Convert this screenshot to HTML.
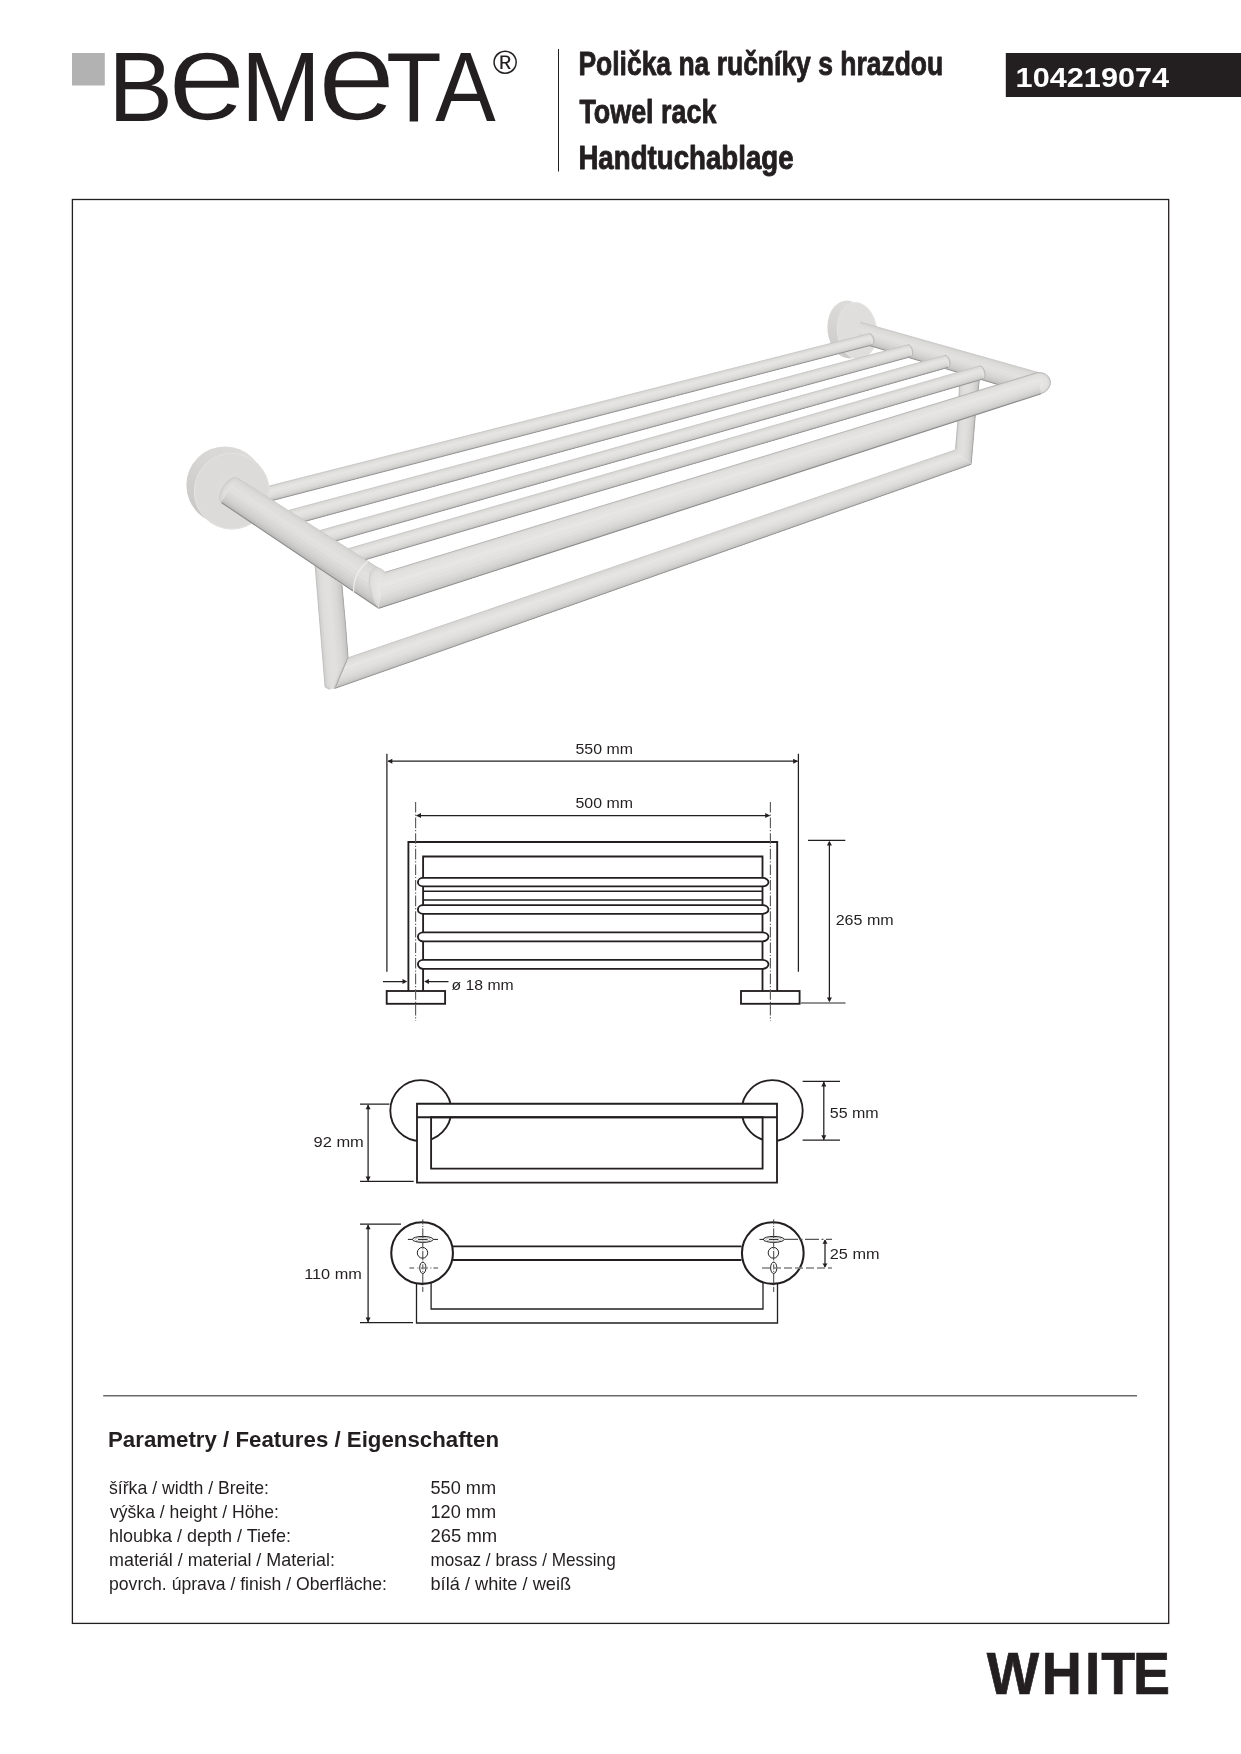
<!DOCTYPE html>
<html lang="cs">
<head>
<meta charset="utf-8">
<title>Bemeta 104219074 – Polička na ručníky s hrazdou</title>
<style>
html,body{margin:0;padding:0;background:#fff;}
body{width:1241px;height:1754px;overflow:hidden;position:relative;font-family:"Liberation Sans",sans-serif;color:#231f20;}
svg{position:absolute;left:0;top:0;display:block;will-change:transform;}
text{font-family:"Liberation Sans",sans-serif;fill:#231f20;}
.b{font-weight:bold;}
</style>
</head>
<body>
<svg id="page" width="1241" height="1754" viewBox="0 0 1241 1754">
<g id="header">
<rect x="72" y="53" width="32.8" height="32.5" fill="#b2b2b2"/>
<g id="logo" aria-label="BeMeTA" fill="#231f20">
<text transform="translate(108.25,120.70) scale(0.9695,0.9826)" font-size="100">B</text><text transform="translate(167.49,120.46) scale(1.4151,1.2704)" font-size="100" stroke="#fff" stroke-width="1.8" vector-effect="non-scaling-stroke">e</text><text transform="translate(240.94,120.70) scale(0.9582,0.9826)" font-size="100">M</text><text transform="translate(317.28,120.46) scale(1.4172,1.2704)" font-size="100" stroke="#fff" stroke-width="1.8" vector-effect="non-scaling-stroke">e</text><text transform="translate(386.37,120.70) scale(0.9055,0.9826)" font-size="100">T</text><text transform="translate(435.32,120.70) scale(0.9064,0.9826)" font-size="100">A</text><text x="492.7" y="74.4" font-size="33.6">®</text>
</g>
<line x1="558.5" y1="49" x2="558.5" y2="171.5" stroke="#231f20" stroke-width="1"/>
<text id="t1" x="578.40" y="75.30" font-size="33.6" textLength="364.80" lengthAdjust="spacingAndGlyphs" class="b" stroke="#231f20" stroke-width="0.9" stroke-linejoin="round">Polička na ručníky s hrazdou</text>
<text id="t2" x="579.40" y="122.50" font-size="33.6" textLength="137.00" lengthAdjust="spacingAndGlyphs" class="b" stroke="#231f20" stroke-width="0.9" stroke-linejoin="round">Towel rack</text>
<text id="t3" x="578.40" y="169.40" font-size="33.6" textLength="215.20" lengthAdjust="spacingAndGlyphs" class="b" stroke="#231f20" stroke-width="0.9" stroke-linejoin="round">Handtuchablage</text>
<rect x="1005.8" y="53" width="236" height="44" fill="#231f20"/>
<text id="code" x="1015.60" y="86.90" font-size="28" textLength="153.60" lengthAdjust="spacingAndGlyphs" class="b" style="fill:#fff">104219074</text>
</g>
<rect x="72.4" y="199.5" width="1096.3" height="1423.9" fill="none" stroke="#231f20" stroke-width="1.3"/>
<g id="product">
<defs><linearGradient id="rimL" gradientUnits="userSpaceOnUse" x1="245" y1="447" x2="195" y2="515"><stop offset="0" stop-color="#dddcda"/><stop offset="0.45" stop-color="#d6d5d3"/><stop offset="1" stop-color="#c9c8c8"/></linearGradient><linearGradient id="rimR" gradientUnits="userSpaceOnUse" x1="855" y1="300" x2="832" y2="350"><stop offset="0" stop-color="#dedddb"/><stop offset="1" stop-color="#cdcccb"/></linearGradient></defs>
<ellipse cx="848" cy="329.5" rx="20.5" ry="29" fill="url(#rimR)" transform="rotate(-6 848 329.5)"/>
<ellipse cx="857" cy="330.8" rx="20" ry="28.6" fill="#dfdedc" transform="rotate(-6 857 330.8)"/>
<ellipse cx="857" cy="330.8" rx="19.6" ry="28.2" fill="none" stroke="#e6e5e3" stroke-width="0.8" transform="rotate(-6 857 330.8)"/>
<path d="M860.3 322.2 L1040.0 373.0 L1030.0 394.3 L858.0 342.1Z" fill="#d4d4d2"/>
<path d="M860.2 323.4 L1039.4 374.3 L1030.0 394.3 L858.0 342.1Z" fill="#dad8d6"/>
<path d="M860.0 324.6 L1038.8 375.6 L1030.0 394.3 L858.0 342.1Z" fill="#dddcda"/>
<path d="M859.8 326.2 L1038.0 377.3 L1030.0 394.3 L858.0 342.1Z" fill="#dfdedc"/>
<path d="M859.6 328.2 L1037.0 379.4 L1030.0 394.3 L858.0 342.1Z" fill="#e2e1df"/>
<path d="M859.3 330.6 L1035.8 381.9 L1030.0 394.3 L858.0 342.1Z" fill="#e0dfdd"/>
<path d="M859.0 333.1 L1034.5 384.7 L1030.0 394.3 L858.0 342.1Z" fill="#dbdad8"/>
<path d="M858.8 335.3 L1033.4 387.1 L1030.0 394.3 L858.0 342.1Z" fill="#d6d5d3"/>
<path d="M858.6 337.1 L1032.5 389.0 L1030.0 394.3 L858.0 342.1Z" fill="#d1d0cf"/>
<path d="M858.4 338.5 L1031.8 390.5 L1030.0 394.3 L858.0 342.1Z" fill="#cdcccb"/>
<path d="M858.3 339.7 L1031.2 391.7 L1030.0 394.3 L858.0 342.1Z" fill="#c5c4c3"/>
<path d="M858.1 340.9 L1030.6 393.0 L1030.0 394.3 L858.0 342.1Z" fill="#bdbdbc"/>
<path d="M860.3 322.2 L1040.0 373.0" fill="none" stroke="#c6c6c5" stroke-width="0.9"/>
<path d="M858.0 342.1 L1030.0 394.3" fill="none" stroke="#959595" stroke-width="1.0"/>
<path d="M960.0 372.0 L958.2 417.4 L955.5 449.6 L971.2 463.5 L975.3 414.7 L979.5 378.0Z" fill="#d2d1d0"/>
<path d="M961.2 372.4 L959.2 417.2 L956.4 450.4 L971.2 463.5 L975.3 414.7 L979.5 378.0Z" fill="#d7d6d5"/>
<path d="M962.3 372.7 L960.3 417.1 L957.4 451.3 L971.2 463.5 L975.3 414.7 L979.5 378.0Z" fill="#dddcda"/>
<path d="M963.9 373.2 L961.6 416.9 L958.6 452.4 L971.2 463.5 L975.3 414.7 L979.5 378.0Z" fill="#dfdedc"/>
<path d="M965.9 373.8 L963.3 416.6 L960.2 453.8 L971.2 463.5 L975.3 414.7 L979.5 378.0Z" fill="#e0e0de"/>
<path d="M968.2 374.5 L965.4 416.3 L962.1 455.4 L971.2 463.5 L975.3 414.7 L979.5 378.0Z" fill="#e1e0de"/>
<path d="M970.7 375.3 L967.6 415.9 L964.1 457.2 L971.2 463.5 L975.3 414.7 L979.5 378.0Z" fill="#dddcda"/>
<path d="M972.9 376.0 L969.5 415.6 L965.9 458.8 L971.2 463.5 L975.3 414.7 L979.5 378.0Z" fill="#dad9d7"/>
<path d="M974.6 376.5 L971.0 415.4 L967.3 460.0 L971.2 463.5 L975.3 414.7 L979.5 378.0Z" fill="#d6d5d3"/>
<path d="M976.0 376.9 L972.2 415.2 L968.4 461.0 L971.2 463.5 L975.3 414.7 L979.5 378.0Z" fill="#d1d0ce"/>
<path d="M977.2 377.3 L973.2 415.0 L969.3 461.8 L971.2 463.5 L975.3 414.7 L979.5 378.0Z" fill="#cccbca"/>
<path d="M978.3 377.6 L974.3 414.9 L970.3 462.7 L971.2 463.5 L975.3 414.7 L979.5 378.0Z" fill="#c7c6c5"/>
<path d="M960.0 372.0 L958.2 417.4 L955.5 449.6" fill="none" stroke="#b4b4b4" stroke-width="0.9"/>
<path d="M979.5 378.0 L975.3 414.7 L971.2 463.5" fill="none" stroke="#a6a6a6" stroke-width="1.0"/>
<path d="M348.0 657.8 L955.5 449.9 L971.2 464.3 L334.2 688.6Z" fill="#d6d5d3"/>
<path d="M347.2 659.6 L956.4 450.8 L971.2 464.3 L334.2 688.6Z" fill="#dbdad8"/>
<path d="M346.3 661.5 L957.4 451.6 L971.2 464.3 L334.2 688.6Z" fill="#dfdedc"/>
<path d="M345.2 664.0 L958.6 452.8 L971.2 464.3 L334.2 688.6Z" fill="#e3e2e0"/>
<path d="M343.9 667.0 L960.2 454.2 L971.2 464.3 L334.2 688.6Z" fill="#e6e5e3"/>
<path d="M342.2 670.7 L962.1 455.9 L971.2 464.3 L334.2 688.6Z" fill="#e3e2e0"/>
<path d="M340.4 674.7 L964.1 457.8 L971.2 464.3 L334.2 688.6Z" fill="#e0dfdd"/>
<path d="M338.9 678.1 L965.9 459.4 L971.2 464.3 L334.2 688.6Z" fill="#dbdad8"/>
<path d="M337.6 680.9 L967.3 460.7 L971.2 464.3 L334.2 688.6Z" fill="#d7d6d4"/>
<path d="M336.7 683.1 L968.4 461.7 L971.2 464.3 L334.2 688.6Z" fill="#d2d1cf"/>
<path d="M335.9 684.9 L969.3 462.6 L971.2 464.3 L334.2 688.6Z" fill="#cacac8"/>
<path d="M335.0 686.8 L970.3 463.4 L971.2 464.3 L334.2 688.6Z" fill="#c4c3c2"/>
<path d="M348.0 657.8 L955.5 449.9" fill="none" stroke="#c6c6c5" stroke-width="0.9"/>
<path d="M334.2 688.6 L971.2 464.3" fill="none" stroke="#959595" stroke-width="1.0"/>
<path d="M315.2 566.0 L320.0 625.0 L325.1 687.0 L329.5 689.3 L335.0 688.3 L348.0 657.4 L345.5 625.0 L341.9 585.0Z" fill="#d2d1d0"/>
<path d="M316.8 567.1 L321.5 625.0 L326.5 685.2 L329.8 689.2 L335.0 688.3 L348.0 657.4 L345.5 625.0 L341.9 585.0Z" fill="#d7d6d5"/>
<path d="M318.4 568.3 L323.1 625.0 L327.8 683.4 L330.2 689.2 L335.0 688.3 L348.0 657.4 L345.5 625.0 L341.9 585.0Z" fill="#dddcda"/>
<path d="M320.5 569.8 L325.1 625.0 L329.7 681.1 L330.6 689.1 L335.0 688.3 L348.0 657.4 L345.5 625.0 L341.9 585.0Z" fill="#dfdedc"/>
<path d="M323.2 571.7 L327.6 625.0 L332.0 678.1 L331.1 689.0 L335.0 688.3 L348.0 657.4 L345.5 625.0 L341.9 585.0Z" fill="#e0e0de"/>
<path d="M326.4 574.0 L330.7 625.0 L334.7 674.6 L331.8 688.9 L335.0 688.3 L348.0 657.4 L345.5 625.0 L341.9 585.0Z" fill="#e1e0de"/>
<path d="M329.9 576.5 L334.0 625.0 L337.7 670.7 L332.5 688.8 L335.0 688.3 L348.0 657.4 L345.5 625.0 L341.9 585.0Z" fill="#dddcda"/>
<path d="M332.8 578.5 L336.8 625.0 L340.2 667.5 L333.1 688.6 L335.0 688.3 L348.0 657.4 L345.5 625.0 L341.9 585.0Z" fill="#dad9d7"/>
<path d="M335.2 580.2 L339.1 625.0 L342.3 664.8 L333.6 688.5 L335.0 688.3 L348.0 657.4 L345.5 625.0 L341.9 585.0Z" fill="#d6d5d3"/>
<path d="M337.1 581.6 L340.9 625.0 L343.9 662.7 L334.0 688.5 L335.0 688.3 L348.0 657.4 L345.5 625.0 L341.9 585.0Z" fill="#d1d0ce"/>
<path d="M338.7 582.7 L342.4 625.0 L345.3 661.0 L334.3 688.4 L335.0 688.3 L348.0 657.4 L345.5 625.0 L341.9 585.0Z" fill="#cccbca"/>
<path d="M340.3 583.9 L344.0 625.0 L346.6 659.2 L334.7 688.4 L335.0 688.3 L348.0 657.4 L345.5 625.0 L341.9 585.0Z" fill="#c7c6c5"/>
<path d="M315.2 566.0 L320.0 625.0 L325.1 687.0 L329.5 689.3" fill="none" stroke="#bcbcbc" stroke-width="0.9"/>
<path d="M341.9 585.0 L345.5 625.0 L348.0 657.4 L335.0 688.3" fill="none" stroke="#a8a8a8" stroke-width="1.0"/>
<path d="M259.0 488.6 L869.5 333.6 A3.2 5.8 -14.2 0 1 871.5 345.1 L871.5 345.1 L270.0 501.1Z" fill="#d6d5d3"/>
<path d="M259.7 489.4 L869.6 334.3 A2.8 5.1 -14.2 0 1 871.4 344.4 L871.5 345.1 L270.0 501.1Z" fill="#dbdad8"/>
<path d="M260.3 490.1 L869.7 335.0 A2.4 4.4 -14.2 0 1 871.3 343.7 L871.5 345.1 L270.0 501.1Z" fill="#dfdedc"/>
<path d="M261.2 491.1 L869.9 335.9 A1.9 3.5 -14.2 0 1 871.1 342.8 L871.5 345.1 L270.0 501.1Z" fill="#e3e2e0"/>
<path d="M262.3 492.4 L870.1 337.1 A1.3 2.3 -14.2 0 1 870.9 341.7 L871.5 345.1 L270.0 501.1Z" fill="#e6e5e3"/>
<path d="M263.6 493.9 L870.3 338.4 A0.5 0.9 -14.2 0 1 870.7 340.3 L871.5 345.1 L270.0 501.1Z" fill="#e3e2e0"/>
<path d="M265.1 495.5 L870.6 339.9 L871.5 345.1 L270.0 501.1Z" fill="#e0dfdd"/>
<path d="M266.3 496.9 L870.8 341.2 L871.5 345.1 L270.0 501.1Z" fill="#dbdad8"/>
<path d="M267.2 498.0 L871.0 342.2 L871.5 345.1 L270.0 501.1Z" fill="#d7d6d4"/>
<path d="M268.0 498.9 L871.1 343.0 L871.5 345.1 L270.0 501.1Z" fill="#d2d1cf"/>
<path d="M268.7 499.6 L871.3 343.7 L871.5 345.1 L270.0 501.1Z" fill="#cacac8"/>
<path d="M269.3 500.4 L871.4 344.4 L871.5 345.1 L270.0 501.1Z" fill="#c4c3c2"/>
<path d="M259.0 488.6 L869.5 333.6" fill="none" stroke="#c6c6c5" stroke-width="0.9"/>
<path d="M270.0 501.1 L871.5 345.1" fill="none" stroke="#959595" stroke-width="1.0"/>
<path d="M869.5 333.6 A3.2 5.8 -14.2 0 1 871.5 345.1" fill="none" stroke="#b2b2b1" stroke-width="0.9"/>
<path d="M289.0 510.3 L908.0 344.8 A3.2 6.1 -15.0 0 1 910.5 356.8 L910.5 356.8 L300.0 522.7Z" fill="#d6d5d3"/>
<path d="M289.7 511.0 L908.1 345.5 A2.8 5.4 -15.0 0 1 910.4 356.1 L910.5 356.8 L300.0 522.7Z" fill="#dbdad8"/>
<path d="M290.3 511.8 L908.3 346.2 A2.4 4.7 -15.0 0 1 910.2 355.4 L910.5 356.8 L300.0 522.7Z" fill="#dfdedc"/>
<path d="M291.2 512.8 L908.5 347.2 A1.9 3.7 -15.0 0 1 910.0 354.4 L910.5 356.8 L300.0 522.7Z" fill="#e3e2e0"/>
<path d="M292.3 514.0 L908.8 348.4 A1.3 2.5 -15.0 0 1 909.8 353.2 L910.5 356.8 L300.0 522.7Z" fill="#e6e5e3"/>
<path d="M293.6 515.5 L909.0 349.8 A0.5 1.0 -15.0 0 1 909.5 351.8 L910.5 356.8 L300.0 522.7Z" fill="#e3e2e0"/>
<path d="M295.1 517.1 L909.4 351.4 L910.5 356.8 L300.0 522.7Z" fill="#e0dfdd"/>
<path d="M296.3 518.5 L909.6 352.7 L910.5 356.8 L300.0 522.7Z" fill="#dbdad8"/>
<path d="M297.2 519.6 L909.9 353.8 L910.5 356.8 L300.0 522.7Z" fill="#d7d6d4"/>
<path d="M298.0 520.5 L910.0 354.6 L910.5 356.8 L300.0 522.7Z" fill="#d2d1cf"/>
<path d="M298.7 521.2 L910.2 355.4 L910.5 356.8 L300.0 522.7Z" fill="#cacac8"/>
<path d="M299.3 522.0 L910.4 356.1 L910.5 356.8 L300.0 522.7Z" fill="#c4c3c2"/>
<path d="M289.0 510.3 L908.0 344.8" fill="none" stroke="#c6c6c5" stroke-width="0.9"/>
<path d="M300.0 522.7 L910.5 356.8" fill="none" stroke="#959595" stroke-width="1.0"/>
<path d="M908.0 344.8 A3.2 6.1 -15.0 0 1 910.5 356.8" fill="none" stroke="#b2b2b1" stroke-width="0.9"/>
<path d="M319.0 530.8 L945.0 355.3 A3.2 6.2 -15.7 0 1 948.0 367.4 L948.0 367.4 L331.0 542.3Z" fill="#d6d5d3"/>
<path d="M319.7 531.5 L945.2 356.0 A2.8 5.5 -15.7 0 1 947.8 366.7 L948.0 367.4 L331.0 542.3Z" fill="#dbdad8"/>
<path d="M320.4 532.2 L945.4 356.8 A2.4 4.7 -15.7 0 1 947.6 365.9 L948.0 367.4 L331.0 542.3Z" fill="#dfdedc"/>
<path d="M321.4 533.1 L945.6 357.7 A1.9 3.7 -15.7 0 1 947.4 365.0 L948.0 367.4 L331.0 542.3Z" fill="#e3e2e0"/>
<path d="M322.6 534.2 L945.9 358.9 A1.3 2.5 -15.7 0 1 947.1 363.8 L948.0 367.4 L331.0 542.3Z" fill="#e6e5e3"/>
<path d="M324.0 535.6 L946.3 360.4 A0.5 1.0 -15.7 0 1 946.7 362.3 L948.0 367.4 L331.0 542.3Z" fill="#e3e2e0"/>
<path d="M325.6 537.1 L946.6 362.0 L948.0 367.4 L331.0 542.3Z" fill="#e0dfdd"/>
<path d="M326.9 538.4 L947.0 363.3 L948.0 367.4 L331.0 542.3Z" fill="#dbdad8"/>
<path d="M328.0 539.4 L947.2 364.4 L948.0 367.4 L331.0 542.3Z" fill="#d7d6d4"/>
<path d="M328.8 540.2 L947.5 365.2 L948.0 367.4 L331.0 542.3Z" fill="#d2d1cf"/>
<path d="M329.6 540.9 L947.6 365.9 L948.0 367.4 L331.0 542.3Z" fill="#cacac8"/>
<path d="M330.3 541.6 L947.8 366.7 L948.0 367.4 L331.0 542.3Z" fill="#c4c3c2"/>
<path d="M319.0 530.8 L945.0 355.3" fill="none" stroke="#c6c6c5" stroke-width="0.9"/>
<path d="M331.0 542.3 L948.0 367.4" fill="none" stroke="#959595" stroke-width="1.0"/>
<path d="M945.0 355.3 A3.2 6.2 -15.7 0 1 948.0 367.4" fill="none" stroke="#b2b2b1" stroke-width="0.9"/>
<path d="M347.0 549.0 L980.0 365.9 A3.2 6.7 -16.1 0 1 983.0 379.0 L983.0 379.0 L359.0 561.5Z" fill="#d6d5d3"/>
<path d="M347.7 549.8 L980.2 366.7 A2.8 5.9 -16.1 0 1 982.8 378.2 L983.0 379.0 L359.0 561.5Z" fill="#dbdad8"/>
<path d="M348.4 550.5 L980.4 367.5 A2.4 5.1 -16.1 0 1 982.6 377.4 L983.0 379.0 L359.0 561.5Z" fill="#dfdedc"/>
<path d="M349.4 551.5 L980.6 368.5 A1.9 4.0 -16.1 0 1 982.4 376.4 L983.0 379.0 L359.0 561.5Z" fill="#e3e2e0"/>
<path d="M350.6 552.8 L980.9 369.8 A1.3 2.7 -16.1 0 1 982.1 375.1 L983.0 379.0 L359.0 561.5Z" fill="#e6e5e3"/>
<path d="M352.0 554.2 L981.3 371.4 A0.5 1.1 -16.1 0 1 981.7 373.5 L983.0 379.0 L359.0 561.5Z" fill="#e3e2e0"/>
<path d="M353.6 555.9 L981.6 373.1 L983.0 379.0 L359.0 561.5Z" fill="#e0dfdd"/>
<path d="M354.9 557.2 L982.0 374.5 L983.0 379.0 L359.0 561.5Z" fill="#dbdad8"/>
<path d="M356.0 558.4 L982.2 375.7 L983.0 379.0 L359.0 561.5Z" fill="#d7d6d4"/>
<path d="M356.8 559.2 L982.5 376.6 L983.0 379.0 L359.0 561.5Z" fill="#d2d1cf"/>
<path d="M357.6 560.0 L982.6 377.4 L983.0 379.0 L359.0 561.5Z" fill="#cacac8"/>
<path d="M358.3 560.8 L982.8 378.2 L983.0 379.0 L359.0 561.5Z" fill="#c4c3c2"/>
<path d="M347.0 549.0 L980.0 365.9" fill="none" stroke="#c6c6c5" stroke-width="0.9"/>
<path d="M359.0 561.5 L983.0 379.0" fill="none" stroke="#959595" stroke-width="1.0"/>
<path d="M980.0 365.9 A3.2 6.7 -16.1 0 1 983.0 379.0" fill="none" stroke="#b2b2b1" stroke-width="0.9"/>
<ellipse cx="225" cy="485.2" rx="38.6" ry="38.8" fill="url(#rimL)"/>
<ellipse cx="231.8" cy="491.2" rx="37.8" ry="38.2" fill="#dcdbd9"/>
<ellipse cx="231.8" cy="491.2" rx="37.4" ry="37.8" fill="none" stroke="#e4e3e1" stroke-width="0.9"/>
<ellipse cx="233" cy="490.5" rx="15.5" ry="19" fill="#dddcda" transform="rotate(-35 233 490.5)"/>
<path d="M237.3 477.9 L385.1 572.3 L378.8 608.3 L221.4 502.5 L221.4 502.5 A7.0 14.6 32.6 0 1 237.3 477.9Z" fill="#d4d4d2"/>
<path d="M236.3 479.4 L384.7 574.5 L378.8 608.3 L221.4 502.5 L222.4 501.0 A6.2 12.9 32.6 0 1 236.3 479.4Z" fill="#dad8d6"/>
<path d="M235.4 480.9 L384.3 576.6 L378.8 608.3 L221.4 502.5 L223.3 499.5 A5.3 11.1 32.6 0 1 235.4 480.9Z" fill="#dddcda"/>
<path d="M234.1 482.8 L383.8 579.5 L378.8 608.3 L221.4 502.5 L224.6 497.6 A4.2 8.8 32.6 0 1 234.1 482.8Z" fill="#dfdedc"/>
<path d="M232.5 485.3 L383.2 583.1 L378.8 608.3 L221.4 502.5 L226.2 495.1 A2.8 5.9 32.6 0 1 232.5 485.3Z" fill="#e2e1df"/>
<path d="M230.6 488.2 L382.5 587.4 L378.8 608.3 L221.4 502.5 L228.1 492.2 A1.1 2.3 32.6 0 1 230.6 488.2Z" fill="#e0dfdd"/>
<path d="M228.6 491.4 L381.6 592.1 L378.8 608.3 L221.4 502.5Z" fill="#dbdad8"/>
<path d="M226.8 494.1 L380.9 596.1 L378.8 608.3 L221.4 502.5Z" fill="#d6d5d3"/>
<path d="M225.4 496.4 L380.4 599.3 L378.8 608.3 L221.4 502.5Z" fill="#d1d0cf"/>
<path d="M224.3 498.1 L379.9 601.8 L378.8 608.3 L221.4 502.5Z" fill="#cdcccb"/>
<path d="M223.3 499.5 L379.6 604.0 L378.8 608.3 L221.4 502.5Z" fill="#c5c4c3"/>
<path d="M222.4 501.0 L379.2 606.1 L378.8 608.3 L221.4 502.5Z" fill="#bdbdbc"/>
<path d="M237.3 477.9 L385.1 572.3" fill="none" stroke="#c8c8c7" stroke-width="0.9"/>
<path d="M221.4 502.5 L378.8 608.3" fill="none" stroke="#8e8e8e" stroke-width="1.1"/>
<path d="M221.4 502.5 A7.0 14.6 32.6 0 1 237.3 477.9" fill="none" stroke="#c9c9c8" stroke-width="0.8"/>
<path d="M385.1 572.3 L1037.0 372.7 A12.5 10.7 -17.0 0 1 1041.0 393.7 L1041.0 393.7 L378.8 608.3 L378.8 608.3 A9.0 18.3 -17.0 0 1 385.1 572.3Z" fill="#d9d8d6"/>
<path d="M384.7 574.5 L1037.2 374.0 A11.0 9.4 -17.0 0 1 1040.8 392.4 L1041.0 393.7 L378.8 608.3 L379.2 606.1 A7.9 16.1 -17.0 0 1 384.7 574.5Z" fill="#dfdedc"/>
<path d="M384.3 576.6 L1037.5 375.2 A9.5 8.1 -17.0 0 1 1040.5 391.2 L1041.0 393.7 L378.8 608.3 L379.6 604.0 A6.8 13.9 -17.0 0 1 384.3 576.6Z" fill="#e2e1df"/>
<path d="M383.8 579.5 L1037.8 376.9 A7.5 6.4 -17.0 0 1 1040.2 389.5 L1041.0 393.7 L378.8 608.3 L380.1 601.1 A5.4 11.0 -17.0 0 1 383.8 579.5Z" fill="#e4e3e1"/>
<path d="M383.2 583.1 L1038.2 379.0 A5.0 4.3 -17.0 0 1 1039.8 387.4 L1041.0 393.7 L378.8 608.3 L380.7 597.5 A3.6 7.3 -17.0 0 1 383.2 583.1Z" fill="#e7e6e4"/>
<path d="M382.5 587.4 L1038.7 381.5 A2.0 1.7 -17.0 0 1 1039.3 384.9 L1041.0 393.7 L378.8 608.3 L381.4 593.2 A1.4 2.9 -17.0 0 1 382.5 587.4Z" fill="#e4e3e1"/>
<path d="M381.6 592.1 L1039.2 384.2 L1041.0 393.7 L378.8 608.3Z" fill="#e1e0de"/>
<path d="M380.9 596.1 L1039.6 386.6 L1041.0 393.7 L378.8 608.3Z" fill="#dcdbd9"/>
<path d="M380.4 599.3 L1040.0 388.4 L1041.0 393.7 L378.8 608.3Z" fill="#d8d7d5"/>
<path d="M379.9 601.8 L1040.3 389.9 L1041.0 393.7 L378.8 608.3Z" fill="#d3d2d0"/>
<path d="M379.6 604.0 L1040.5 391.2 L1041.0 393.7 L378.8 608.3Z" fill="#ccccca"/>
<path d="M379.2 606.1 L1040.8 392.4 L1041.0 393.7 L378.8 608.3Z" fill="#c5c5c4"/>
<path d="M385.1 572.3 L1037.0 372.7" fill="none" stroke="#b0b0af" stroke-width="0.9"/>
<path d="M378.8 608.3 L1041.0 393.7" fill="none" stroke="#8e8e8e" stroke-width="1.1"/>
<path d="M1037.0 372.7 A12.5 10.7 -17.0 0 1 1041.0 393.7" fill="none" stroke="#b2b2b1" stroke-width="0.9"/>
<path d="M378.8 608.3 A9.0 18.3 -17.0 0 1 385.1 572.3" fill="none" stroke="#c9c9c8" stroke-width="0.8"/>
<path d="M367.7 561.5 Q352.5 574 353.7 592.5" stroke="#efeeec" stroke-width="1.2" fill="none"/>
</g>
<g id="draw1" fill="none" stroke="#231f20" stroke-width="1.85">
<path d="M408.4 991V842H777.2V991"/>
<path d="M423.1 991V856.5H762.5V991"/>
<path d="M423.1 891.3H762.5M423.1 900H762.5" stroke-width="1.6"/>
<path fill="#fff" d="M423.1 877.9H762.5A6 4.25 0 0 1 762.5 886.4H423.1A5.2 4.25 0 0 1 423.1 877.9Z"/>
<path fill="#fff" d="M423.1 905.1H762.5A6 4.35 0 0 1 762.5 913.8H423.1A5.2 4.35 0 0 1 423.1 905.1Z"/>
<path fill="#fff" d="M423.1 932.3H762.5A6 4.50 0 0 1 762.5 941.3H423.1A5.2 4.50 0 0 1 423.1 932.3Z"/>
<path fill="#fff" d="M423.1 959.8H762.5A6 4.55 0 0 1 762.5 968.9H423.1A5.2 4.55 0 0 1 423.1 959.8Z"/>
<rect x="386.7" y="991" width="58.4" height="12.8" fill="#fff"/>
<rect x="741" y="991" width="58.6" height="12.8" fill="#fff"/>
</g>
<g id="dim1" fill="none" stroke="#231f20" stroke-width="1.25">
<path d="M386.9 753.8V971.8M798.4 753.8V971.8M388 761.2H797.5M416.5 815.6H769.5"/>
<path d="M382.9 981.6H405M448.5 981.6H427"/>
<path d="M808 840.3H845.3M829.4 842V1001"/>
<path d="M800.6 1003H845.5" stroke="#6e6e6e" stroke-width="1.6"/>
<path d="M415.6 802V1021M770.4 802V1021" stroke="#5c5c5e" stroke-width="1.15" stroke-dasharray="10.6 1.9 1.2 1.9"/>
<g fill="#231f20" stroke="none">
<polygon points="387.5,761.2 392.3,758.7 392.3,763.7"/><polygon points="798.0,761.2 793.2,758.7 793.2,763.7"/><polygon points="416.2,815.6 421.0,813.1 421.0,818.1"/><polygon points="770.0,815.6 765.2,813.1 765.2,818.1"/>
<polygon points="407.3,981.6 402.5,979.1 402.5,984.1"/><polygon points="424.1,981.6 428.9,979.1 428.9,984.1"/>
<polygon points="829.4,840.8 826.9,845.6 831.9,845.6"/><polygon points="829.4,1002.3 826.9,997.5 831.9,997.5"/>
</g></g>
<g class="dim">
<text id="d550" x="575.50" y="753.90" font-size="15.0" textLength="57.40" lengthAdjust="spacingAndGlyphs">550 mm</text>
<text id="d500" x="575.50" y="807.90" font-size="15.0" textLength="57.40" lengthAdjust="spacingAndGlyphs">500 mm</text>
<text id="d18" x="451.50" y="990.40" font-size="15.0" textLength="62.20" lengthAdjust="spacingAndGlyphs">ø 18 mm</text>
<text id="d265" x="835.70" y="925.00" font-size="15.0" textLength="58.00" lengthAdjust="spacingAndGlyphs">265 mm</text>
</g>
<g id="draw2" fill="none" stroke="#231f20" stroke-width="1.85">
<circle cx="420.8" cy="1110.6" r="30.5"/><circle cx="772.2" cy="1110.6" r="30.5"/>
<path fill="#fff" fill-rule="evenodd" d="M417 1103.7H777V1182.6H417ZM431.1 1117.2H762.6V1168.6H431.1Z"/>
<path d="M417 1117.2H777"/>
</g>
<g id="dim2" fill="none" stroke="#231f20" stroke-width="1.25">
<path d="M360 1104.1H389.5M360 1181.4H413.7M368.1 1105V1181M802.6 1081.4H840M802.6 1140.2H840M823.8 1082V1139.5"/>
<g fill="#231f20" stroke="none"><polygon points="368.1,1104.5 365.6,1109.3 370.6,1109.3"/><polygon points="368.1,1181.2 365.6,1176.4 370.6,1176.4"/><polygon points="823.8,1081.6 821.3,1086.4 826.3,1086.4"/><polygon points="823.8,1140.0 821.3,1135.2 826.3,1135.2"/></g></g>
<g class="dim">
<text id="d92" x="313.50" y="1146.90" font-size="15.0" textLength="50.30" lengthAdjust="spacingAndGlyphs">92 mm</text>
<text id="d55" x="829.75" y="1118.00" font-size="15.0" textLength="48.95" lengthAdjust="spacingAndGlyphs">55 mm</text>
</g>
<g id="draw3" fill="none" stroke="#231f20" stroke-width="1.85">
<path d="M416.5 1283V1323H777.5V1283M431.1 1283V1309H763V1283" stroke="#231f20" stroke-width="1.3"/>
<path d="M453 1246.3H741.5M453 1260H741.5"/>
<circle cx="422.1" cy="1253" r="30.85" fill="#fff" stroke-width="2.05"/><circle cx="772.8" cy="1253" r="30.85" fill="#fff" stroke-width="2.05"/>
<g stroke-width="1"><ellipse cx="422.8" cy="1239.4" rx="10.4" ry="3"/><ellipse cx="422.8" cy="1239.4" rx="7.8" ry="1.9" stroke-width="0.5" stroke="#6d6e70"/><ellipse cx="422.5" cy="1252.8" rx="5.2" ry="5.4"/><ellipse cx="422.8" cy="1267.8" rx="3.1" ry="5.7"/>
<path d="M422.8 1219.4V1292" stroke="#414042" stroke-dasharray="5 1.5 1 1.5 9.5 1.5 1 1.5"/></g>
<g stroke-width="1"><ellipse cx="773.7" cy="1239.4" rx="10.4" ry="3"/><ellipse cx="773.7" cy="1239.4" rx="7.8" ry="1.9" stroke-width="0.5" stroke="#6d6e70"/><ellipse cx="773.4" cy="1252.8" rx="5.2" ry="5.4"/><ellipse cx="773.7" cy="1267.8" rx="3.1" ry="5.7"/>
<path d="M773.7 1219.4V1292" stroke="#414042" stroke-dasharray="5 1.5 1 1.5 9.5 1.5 1 1.5"/></g>
<path d="M407.9 1239.4H412.4M433.2 1239.4H438M418 1239.4H427.6" stroke-width="1"/>
<path d="M409.4 1268H438" stroke-width="1.4" stroke="#808285" stroke-dasharray="4.7 3.3 1 2.5 7 2.5 1 2 4.7 3"/>
<path d="M759.5 1239.4H764M768.9 1239.4H778.5" stroke-width="1"/>
<path d="M784 1239.4H832" stroke-width="1.2" stroke="#58595b" stroke-dasharray="14 2.5 2 2.5"/>
<path d="M762 1268H832" stroke-width="1.4" stroke="#808285" stroke-dasharray="8 3"/>
</g>
<g id="dim3" fill="none" stroke="#231f20" stroke-width="1.25">
<path d="M360 1224.1H401M360 1322.5H413M368.1 1225V1322M825 1240V1267"/>
<g fill="#231f20" stroke="none"><polygon points="368.1,1224.5 365.6,1229.3 370.6,1229.3"/><polygon points="368.1,1322.2 365.6,1317.4 370.6,1317.4"/><polygon points="825.0,1239.6 822.5,1243.8 827.5,1243.8"/><polygon points="825.0,1267.6 822.5,1263.4 827.5,1263.4"/></g></g>
<g class="dim">
<text id="d110" x="304.20" y="1278.90" font-size="15.0" textLength="57.60" lengthAdjust="spacingAndGlyphs">110 mm</text>
<text id="d25" x="829.75" y="1259.20" font-size="15.0" textLength="49.75" lengthAdjust="spacingAndGlyphs">25 mm</text>
</g>
<g id="params">
<line x1="103.2" y1="1395.7" x2="1137" y2="1395.7" stroke="#6b6a68" stroke-width="1.4"/>
<text id="head" x="108.00" y="1446.50" font-size="21.9" textLength="391.00" lengthAdjust="spacingAndGlyphs" class="b">Parametry / Features / Eigenschaften</text>
<text id="l0" x="109.00" y="1493.70" font-size="17.8" textLength="160.00" lengthAdjust="spacingAndGlyphs">šířka / width / Breite:</text>
<text id="v0" x="430.50" y="1493.70" font-size="17.8" textLength="65.60" lengthAdjust="spacingAndGlyphs">550 mm</text>
<text id="l1" x="110.00" y="1517.70" font-size="17.8" textLength="169.00" lengthAdjust="spacingAndGlyphs">výška / height / Höhe:</text>
<text id="v1" x="430.50" y="1517.70" font-size="17.8" textLength="65.60" lengthAdjust="spacingAndGlyphs">120 mm</text>
<text id="l2" x="109.00" y="1541.80" font-size="17.8" textLength="182.00" lengthAdjust="spacingAndGlyphs">hloubka / depth / Tiefe:</text>
<text id="v2" x="430.50" y="1541.80" font-size="17.8" textLength="66.60" lengthAdjust="spacingAndGlyphs">265 mm</text>
<text id="l3" x="109.00" y="1565.80" font-size="17.8" textLength="226.00" lengthAdjust="spacingAndGlyphs">materiál / material / Material:</text>
<text id="v3" x="430.50" y="1565.80" font-size="17.8" textLength="185.20" lengthAdjust="spacingAndGlyphs">mosaz / brass / Messing</text>
<text id="l4" x="109.00" y="1589.80" font-size="17.8" textLength="278.00" lengthAdjust="spacingAndGlyphs">povrch. úprava / finish / Oberfläche:</text>
<text id="v4" x="430.50" y="1589.80" font-size="17.8" textLength="140.60" lengthAdjust="spacingAndGlyphs">bílá / white / weiß</text>
</g>
<text id="white" class="b" transform="scale(0.93 1)" x="1061.1 1120.1 1166.6 1184.2 1218.2" y="1694" font-size="59.7" stroke="#231f20" stroke-width="0.7">WHITE</text>
</svg>
</body>
</html>
